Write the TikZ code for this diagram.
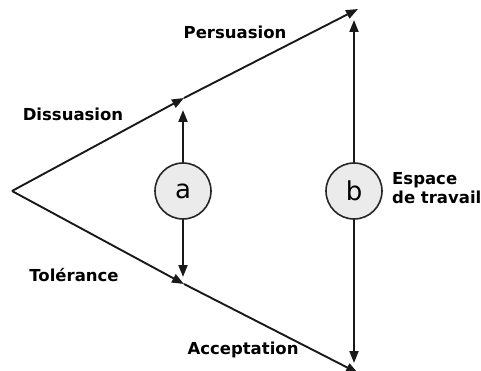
\documentclass[tikz,border=0pt]{standalone}
\usepackage{fontspec}
\setmainfont{DejaVu Sans}
\usetikzlibrary{arrows.meta}

\tikzset{
  tip/.style={line width=1.9pt, draw=black!90, -{Triangle[length=12pt,width=9pt]}},
  zone/.style={circle, draw=black!85, line width=1.6pt, fill=black!8, minimum size=56pt, inner sep=0pt, font=\fontsize{26}{26}\selectfont},
  lbl/.style={font=\fontsize{16.5}{19}\selectfont\bfseries, inner sep=0pt},
}

\begin{document}
\begin{tikzpicture}[x=1pt,y=-1pt]
\useasboundingbox (0,0) rectangle (481,371);
\coordinate (apex) at (12,191); % left corner
\coordinate (hi) at (184,98); % upper middle
\coordinate (lo) at (184,284); % lower middle
\coordinate (hiend) at (358,9); % upper end
\coordinate (loend) at (358,373); % lower end
\coordinate (atop) at (183,110);
\coordinate (abot) at (183,277);
\coordinate (btop) at (354,20);
\coordinate (bbot) at (354,363);
\node[zone] (a) at (183,191) {a};
\node[zone] (b) at (354,191) {b};
\draw[tip] (apex) -- (hi); % upper edge
\draw[tip] (hi) -- (hiend);
\draw[tip] (apex) -- (lo); % lower edge
\draw[tip] (lo) -- (loend);
\draw[tip] (a.north) -- (atop); % a range
\draw[tip] (a.south) -- (abot);
\draw[tip] (b.north) -- (btop); % b range
\draw[tip] (b.south) -- (bbot);
\node[lbl] (pers) at (235,32) {Persuasion};
\node[lbl] (diss) at (73,114) {Dissuasion};
\node[lbl] (tol) at (74,275) {Tolérance};
\node[lbl] (acc) at (243,350) {Acceptation};
\node[lbl, anchor=west, align=left] (esp) at (392,188) {Espace\\de travail};
\end{tikzpicture}
\end{document}
